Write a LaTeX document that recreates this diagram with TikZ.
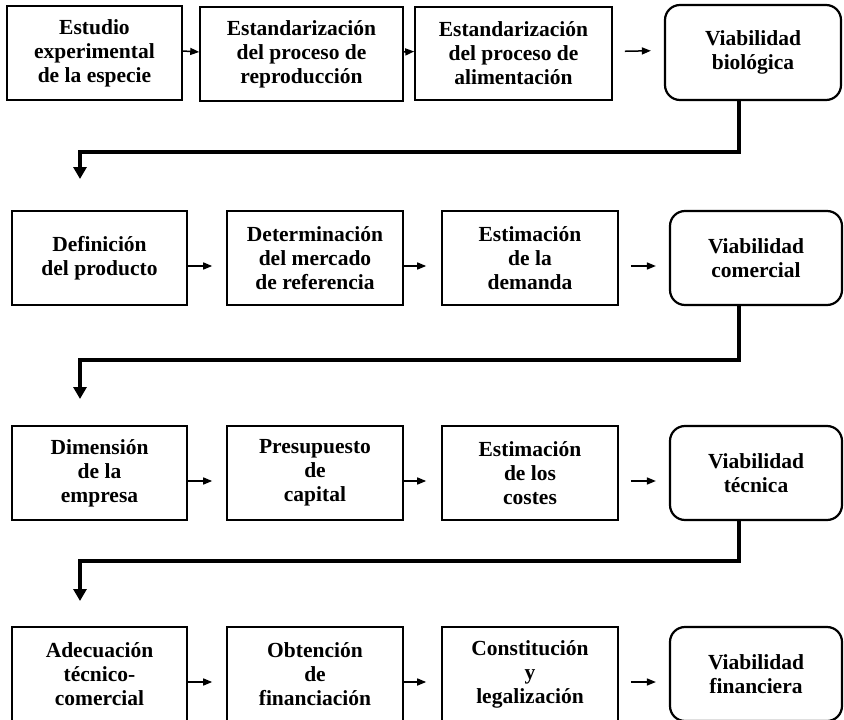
\documentclass[tikz,border=0pt]{standalone}
\usepackage{fontspec}
\setmainfont{Liberation Serif}
\usetikzlibrary{arrows.meta}
\begin{document}
\begin{tikzpicture}[x=1pt,y=-1pt,
  box/.style={draw, line width=1.6pt, align=center, inner sep=0pt,
    font=\fontsize{21.5}{24}\selectfont\bfseries},
  rbox/.style={box, rounded corners=15pt, line width=2.2pt},
  flow/.style={line width=1.5pt, -{Triangle[length=9pt,width=7pt]}},
  back/.style={line width=4pt, -{Triangle[length=12pt,width=13pt]}}]
\useasboundingbox (0,0) rectangle (844,720);
\clip (0,0) rectangle (844,720);
% Row 1
\node[box, minimum width=175pt, minimum height=94pt] (a1) at (94.5,53) {Estudio\\experimental\\de la especie};
\node[box, minimum width=203pt, minimum height=94pt] (a2) at (301.5,54) {Estandarización\\del proceso de\\reproducción};
\node[box, minimum width=197pt, minimum height=93pt] (a3) at (513.5,53.5) {Estandarización\\del proceso de\\alimentación};
\node[rbox, minimum width=176pt, minimum height=95pt] (a4) at (753,52.5) {Viabilidad\\biológica};
% Row 2
\node[box, minimum width=175pt, minimum height=94pt] (b1) at (99.5,258) {Definición\\del producto};
\node[box, minimum width=176pt, minimum height=94pt] (b2) at (315,258) {Determinación\\del mercado\\de referencia};
\node[box, minimum width=176pt, minimum height=94pt] (b3) at (530,258) {Estimación\\de la\\demanda};
\node[rbox, minimum width=172pt, minimum height=94pt] (b4) at (756,258) {Viabilidad\\comercial};
% Row 3
\node[box, minimum width=175pt, minimum height=94pt] (c1) at (99.5,473) {Dimensión\\de la\\empresa};
\node[box, minimum width=176pt, minimum height=94pt] (c2) at (315,473) {Presupuesto\\de\\capital};
\node[box, minimum width=176pt, minimum height=94pt] (c3) at (530,473) {Estimación\\de los\\costes};
\node[rbox, minimum width=172pt, minimum height=94pt] (c4) at (756,473) {Viabilidad\\técnica};
% Row 4
\node[box, minimum width=175pt, minimum height=94pt] (d1) at (99.5,674) {Adecuación\\técnico-\\comercial};
\node[box, minimum width=176pt, minimum height=94pt] (d2) at (315,674) {Obtención\\de\\financiación};
\node[box, minimum width=176pt, minimum height=94pt] (d3) at (530,674) {Constitución\\y\\legalización};
\node[rbox, minimum width=172pt, minimum height=94pt] (d4) at (756,674) {Viabilidad\\financiera};
% Row 1 arrows
\draw[flow] ([yshift=2pt]a1.east) -- ([yshift=2pt]a2.west);
\draw[flow] ([yshift=2pt]a2.east) -- ([yshift=2pt]a3.west);
\draw[flow, shorten <=12pt, shorten >=13pt] ([yshift=2pt]a3.east) -- ([yshift=2pt]a4.west);
% Row 2-4 arrows
\foreach \r in {b,c,d}{
  \draw[flow, shorten >=14pt] ([yshift=-8pt]\r1.east) -- ([yshift=-8pt]\r2.west);
  \draw[flow, shorten >=15pt] ([yshift=-8pt]\r2.east) -- ([yshift=-8pt]\r3.west);
  \draw[flow, shorten <=12pt, shorten >=13pt] ([yshift=-8pt]\r3.east) -- ([yshift=-8pt]\r4.west);
}
% Back connectors
\coordinate (k1) at (80,152);
\coordinate (t1) at (80,179);
\coordinate (k2) at (80,360);
\coordinate (t2) at (80,399);
\coordinate (k3) at (80,561);
\coordinate (t3) at (80,601);
\draw[back] ([xshift=-14pt]a4.south) |- (k1) -- (t1);
\draw[back] ([xshift=-17pt]b4.south) |- (k2) -- (t2);
\draw[back] ([xshift=-17pt]c4.south) |- (k3) -- (t3);
\end{tikzpicture}
\end{document}
